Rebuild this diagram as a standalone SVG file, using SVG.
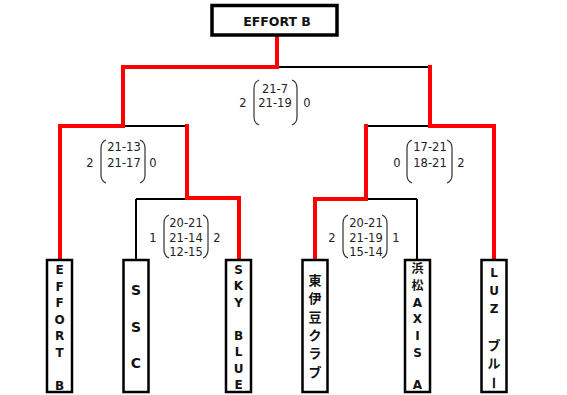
<svg xmlns="http://www.w3.org/2000/svg" width="567" height="395" viewBox="0 0 567 395">
<style>
.box{fill:#fff;stroke:#000;stroke-width:2.5}
.top{fill:#fff;stroke:#000;stroke-width:3.5}
.bk{fill:none;stroke:#000;stroke-width:2}
.rd{fill:none;stroke:#f00;stroke-width:4;stroke-linejoin:miter;stroke-linecap:square}
.par{fill:none;stroke:#333;stroke-width:1.2}
.sc{font-family:"DejaVu Sans",Verdana,sans-serif;font-size:11.5px;fill:#222;text-anchor:middle}
.tm{font-family:"DejaVu Sans","Noto Sans CJK JP",sans-serif;font-weight:bold;font-size:12px;fill:#111;text-anchor:middle}
.tl{font-size:14px}
.cj{font-family:"Noto Sans CJK JP",sans-serif;font-weight:bold;font-size:13px}
.cs{font-family:"Noto Sans CJK JP",sans-serif;font-weight:bold;font-size:12px}
</style>
<rect width="567" height="395" fill="#fff"/>
<g id="connectors">
<path class="bk" d="M277,35V67M123,67H430M123,67V126M60,126H187M60,126V260M187,126V199M136,199H239M136,199V260M239,199V260M430,67V126M366,126H494M366,126V199M494,126V260M315,199H417M315,199V260M417,199V260"/>
<path class="rd" d="M277,36V67H123V126H60V259"/>
<path class="rd" d="M187,126V198H239V259"/>
<path class="rd" d="M430,67V126H494V259"/>
<path class="rd" d="M366,126V199H315V259"/>
</g>
<g id="scores">
<g id="score-final">
<path class="par" d="M259,80Q254,82 254,88V117Q254,123 259,125M292,80Q297,82 297,88V117Q297,123 292,125"/>
<text class="sc" x="243" y="107">2</text>
<text class="sc" x="275" y="93">21-7</text>
<text class="sc" x="275" y="107">21-19</text>
<text class="sc" x="307" y="107">0</text>
</g>
<g id="score-semi-left">
<path class="par" d="M106,140Q101,142 101,148V175Q101,181 106,183M140,140Q145,142 145,148V175Q145,181 140,183"/>
<text class="sc" x="90" y="167">2</text>
<text class="sc" x="124" y="151">21-13</text>
<text class="sc" x="124" y="167">21-17</text>
<text class="sc" x="153" y="167">0</text>
</g>
<g id="score-semi-right">
<path class="par" d="M412,140Q407,142 407,148V175Q407,181 412,183M447,140Q452,142 452,148V175Q452,181 447,183"/>
<text class="sc" x="397" y="167">0</text>
<text class="sc" x="430" y="151">17-21</text>
<text class="sc" x="430" y="167">18-21</text>
<text class="sc" x="461" y="167">2</text>
</g>
<g id="score-qf-left">
<path class="par" d="M169,215Q164,217 164,223V250Q164,256 169,258M203,215Q208,217 208,223V250Q208,256 203,258"/>
<text class="sc" x="153" y="242">1</text>
<text class="sc" x="186" y="227">20-21</text>
<text class="sc" x="186" y="242">21-14</text>
<text class="sc" x="186" y="256">12-15</text>
<text class="sc" x="217" y="242">2</text>
</g>
<g id="score-qf-right">
<path class="par" d="M348,215Q343,217 343,223V250Q343,256 348,258M382,215Q387,217 387,223V250Q387,256 382,258"/>
<text class="sc" x="332" y="242">2</text>
<text class="sc" x="366" y="227">20-21</text>
<text class="sc" x="366" y="242">21-19</text>
<text class="sc" x="366" y="256">15-14</text>
<text class="sc" x="396" y="242">1</text>
</g>
</g>
<g id="champion">
<rect class="top" x="212" y="5.5" width="125" height="29.5"/>
<text x="277" y="26" style="font-family:'DejaVu Sans',Verdana,sans-serif;font-weight:bold;font-size:12.5px;fill:#111;text-anchor:middle">EFFORT B</text>
</g>
<g id="team-effort-b">
<rect class="box" x="47" y="260" width="25" height="132"/>
<text class="tm"><tspan x="59.5" y="274">E</tspan><tspan x="59.5" y="290.5">F</tspan><tspan x="59.5" y="307">F</tspan><tspan x="59.5" y="323.5">O</tspan><tspan x="59.5" y="340">R</tspan><tspan x="59.5" y="356.5">T</tspan><tspan x="59.5" y="389.5">B</tspan></text>
</g>
<g id="team-ssc">
<rect class="box" x="123.5" y="260" width="25" height="132"/>
<text class="tm tl"><tspan x="136" y="295">S</tspan><tspan x="136" y="332">S</tspan><tspan x="136" y="368">C</tspan></text>
</g>
<g id="team-sky-blue">
<rect class="box" x="226" y="260" width="25" height="132"/>
<text class="tm"><tspan x="238.5" y="273.5">S</tspan><tspan x="238.5" y="290">K</tspan><tspan x="238.5" y="306.5">Y</tspan><tspan x="238.5" y="339.5">B</tspan><tspan x="238.5" y="356">L</tspan><tspan x="238.5" y="372.5">U</tspan><tspan x="238.5" y="389">E</tspan></text>
</g>
<g id="team-higashiizu">
<rect class="box" x="302.5" y="260" width="25" height="132"/>
<text class="tm cj"><tspan x="315" y="284.5">東</tspan><tspan x="315" y="302.5">伊</tspan><tspan x="315" y="321.5">豆</tspan><tspan x="315" y="339.5">ク</tspan><tspan x="315" y="357.5">ラ</tspan><tspan x="315" y="376.5">ブ</tspan></text>
</g>
<g id="team-hamamatsu-axis-a">
<rect class="box" x="405" y="260" width="25" height="132"/>
<text class="tm"><tspan class="cs" x="417.5" y="272.5">浜</tspan><tspan class="cs" x="417.5" y="289.5">松</tspan><tspan x="417.5" y="306.5">A</tspan><tspan x="417.5" y="322.5">X</tspan><tspan x="417.5" y="339.5">I</tspan><tspan x="417.5" y="356.5">S</tspan><tspan x="417.5" y="388.5">A</tspan></text>
</g>
<g id="team-luz-blue">
<rect class="box" x="481.5" y="260" width="25" height="132"/>
<text class="tm"><tspan x="494" y="276.5">L</tspan><tspan x="494" y="294.5">U</tspan><tspan x="494" y="312.5">Z</tspan><tspan class="cj" x="494" y="349.5">ブ</tspan><tspan class="cj" x="494" y="367.5">ル</tspan></text>
<text class="tm cj" x="494" y="383" dominant-baseline="central" transform="rotate(90 494 383)">ー</text>
</g>
</svg>
